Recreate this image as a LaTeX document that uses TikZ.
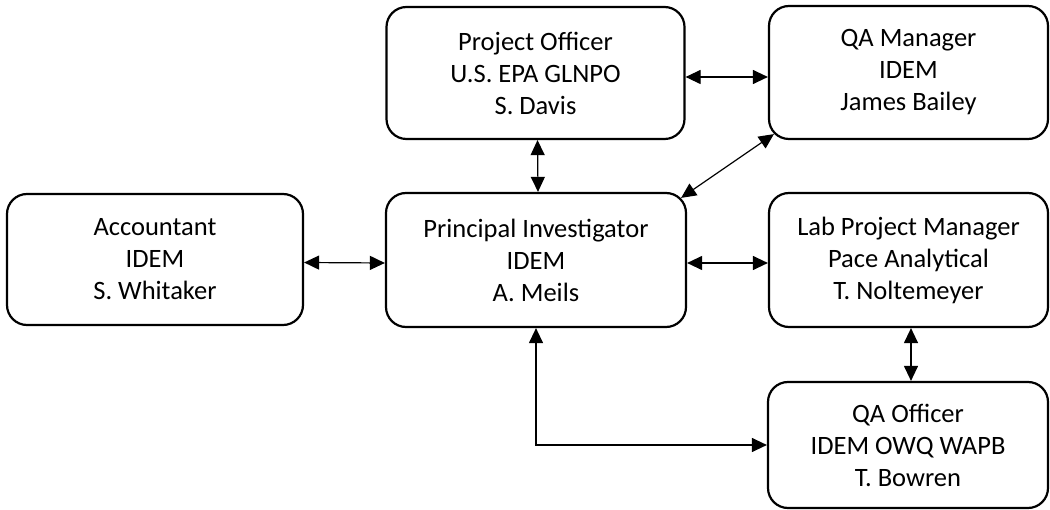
\documentclass[tikz,border=0pt]{standalone}
\usepackage{fontspec}
\setmainfont{Carlito}
\usetikzlibrary{arrows.meta}
\begin{document}
\begin{tikzpicture}[x=1pt,y=1pt,
  box/.style={draw, line width=2.2pt, rounded corners=20pt, minimum width=298pt, align=center,
    font=\fontsize{26.5}{32}\selectfont, inner sep=0pt},
  link/.style={line width=1.2pt, {Triangle[length=15pt,width=14pt]}-{Triangle[length=15pt,width=14pt]}}]
\useasboundingbox (0,0) rectangle (1050,-510);
\node[box, minimum height=132pt] (po) at (535.5,-73) {Project Officer\\U.S. EPA GLNPO\\S. Davis};
\node[box, minimum height=133pt, minimum width=279pt] (qam) at (908.5,-72.5) {QA Manager\\IDEM\\James Bailey};
\node[box, minimum height=131pt, minimum width=296pt] (acc) at (155,-259.5) {Accountant\\IDEM\\S. Whitaker};
\node[box, minimum height=134pt, minimum width=300pt] (pi) at (536,-260) {Principal Investigator\\IDEM\\A. Meils};
\node[box, minimum height=134pt, minimum width=279pt] (lab) at (908.5,-260) {Lab Project Manager\\Pace Analytical\\T. Noltemeyer};
\node[box, minimum height=126pt, minimum width=280pt] (qao) at (908,-445) {QA Officer\\IDEM OWQ WAPB\\T. Bowren};
\draw[link] ([yshift=-4pt]po.east) -- ([yshift=-4.5pt]qam.west);
\draw[link] ([xshift=2pt]po.south) -- ([xshift=2pt]pi.north);
\draw[link] ([shift={(-6pt,-6pt)}]pi.north east) -- ([shift={(6pt,6pt)}]qam.south west);
\draw[link] ([yshift=-3pt]acc.east) -- ([yshift=-3pt]pi.west);
\draw[link] ([yshift=-3pt]pi.east) -- ([yshift=-3pt]lab.west);
\draw[link] ([xshift=2.5pt]lab.south) -- ([xshift=3pt]qao.north);
\draw[link] (pi.south) |- (qao.west);
\end{tikzpicture}
\end{document}
